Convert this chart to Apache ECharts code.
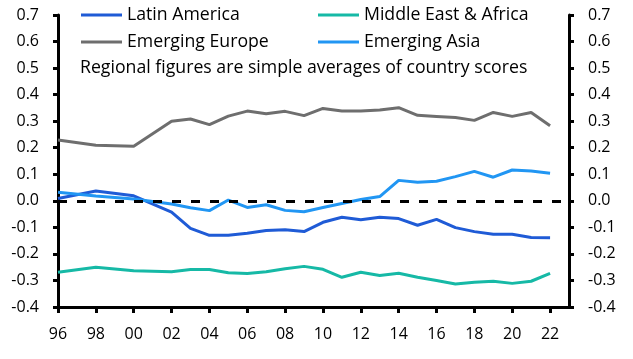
<!DOCTYPE html>
<html>
<head>
<meta charset="utf-8">
<script src="https://cdn.jsdelivr.net/npm/echarts@6/dist/echarts.min.js"></script>
<style>html,body{margin:0;padding:0;background:#fff}#c{width:633px;height:359px}</style>
</head>
<body>
<div id="c"></div>
<script>
var years = ['1996','1997','1998','1999','2000','2001','2002','2003','2004','2005','2006','2007','2008','2009','2010','2011','2012','2013','2014','2015','2016','2017','2018','2019','2020','2021','2022','2023'];
var latinAmerica = [0.009,null,0.037,null,0.019,null,-0.043,-0.104,-0.130,-0.130,-0.122,-0.112,-0.109,-0.116,-0.081,-0.062,-0.071,-0.062,-0.067,-0.092,-0.070,-0.101,-0.116,-0.126,-0.126,-0.138,-0.139,null];
var middleEastAfrica = [-0.269,null,-0.250,null,-0.263,null,-0.267,-0.259,-0.259,-0.271,-0.274,-0.267,-0.256,-0.247,-0.258,-0.288,-0.269,-0.281,-0.273,-0.288,-0.300,-0.313,-0.307,-0.303,-0.311,-0.303,-0.273,null];
var emergingEurope = [0.229,null,0.209,null,0.206,null,0.300,0.308,0.287,0.319,0.338,0.328,0.337,0.321,0.348,0.338,0.338,0.342,0.351,0.322,0.318,0.314,0.303,0.333,0.318,0.333,0.283,null];
var emergingAsia = [0.032,null,0.018,null,0.007,null,-0.012,-0.026,-0.037,0.003,-0.025,-0.015,-0.036,-0.041,-0.025,-0.010,0.005,0.016,0.077,0.070,0.074,0.091,0.111,0.089,0.116,0.112,0.104,null];
var note = 'Regional figures are simple averages of country scores';

var FONT = 'Open Sans';
var chart = echarts.init(document.getElementById('c'));
function yfmt(v){ if (Math.abs(v) < 1e-9) return '0.0'; return v.toFixed(1); }
function showIdx(i){ return i % 2 === 0 && i < 27; }
var yAxisBase = {
  type: 'value', min: -0.4, max: 0.7, interval: 0.1,
  axisLine: {show: true, lineStyle: {color: '#000', width: 3}},
  axisTick: {show: true, inside: false, length: 5, lineStyle: {color: '#000', width: 3}},
  splitLine: {show: false},
  axisLabel: {formatter: yfmt, color: '#000', fontFamily: FONT, fontSize: 16, margin: 19}
};
function mk(name, data, color, extra){
  var s = {name: name, type: 'line', data: data, connectNulls: true, symbol: 'none',
    lineStyle: {color: color, width: 3}, itemStyle: {color: color}, z: 3};
  if (extra) for (var k in extra) s[k] = extra[k];
  return s;
}
var legendBase = {orient: 'vertical', top: 6, padding: 0, icon: 'rect', itemWidth: 41, itemHeight: 3, itemGap: 9,
  textStyle: {fontFamily: FONT, fontSize: 17.7, color: '#000', lineHeight: 18, padding: [0, 0, 0, 0]}};
chart.setOption({
  animation: false,
  textStyle: {fontFamily: FONT},
  grid: {left: 58, right: 64, top: 15, bottom: 52, containLabel: false},
  title: {text: note, left: 80, top: 59, padding: 0, textStyle: {fontFamily: FONT, fontSize: 17.7, fontWeight: 'normal', color: '#000', lineHeight: 18}},
  legend: [
    Object.assign({}, legendBase, {data: ['Latin America', 'Emerging Europe'], left: 81}),
    Object.assign({}, legendBase, {data: ['Middle East & Africa', 'Emerging Asia'], left: 318})
  ],
  xAxis: {
    type: 'category', data: years, boundaryGap: false,
    axisLine: {show: true, onZero: false, lineStyle: {color: '#000', width: 3}},
    axisTick: {show: true, interval: function(i){ return showIdx(i); }, length: 6, lineStyle: {color: '#000', width: 3}},
    axisLabel: {interval: function(i){ return showIdx(i); }, formatter: function(v){ return v.slice(2); }, color: '#000', fontFamily: FONT, fontSize: 16, margin: 19},
    splitLine: {show: false}
  },
  yAxis: [
    Object.assign({}, yAxisBase, {position: 'left'}),
    Object.assign({}, yAxisBase, {position: 'right'})
  ],
  series: [
    mk('Latin America', latinAmerica, '#1F5BD6', {
      markLine: {silent: true, symbol: 'none', label: {show: false},
        lineStyle: {color: '#000', width: 3, type: [9, 10]}, data: [{yAxis: 0}]}
    }),
    mk('Middle East & Africa', middleEastAfrica, '#16B9A6'),
    mk('Emerging Europe', emergingEurope, '#6E6E6E'),
    mk('Emerging Asia', emergingAsia, '#2196F3')
  ]
});
</script>
</body>
</html>
